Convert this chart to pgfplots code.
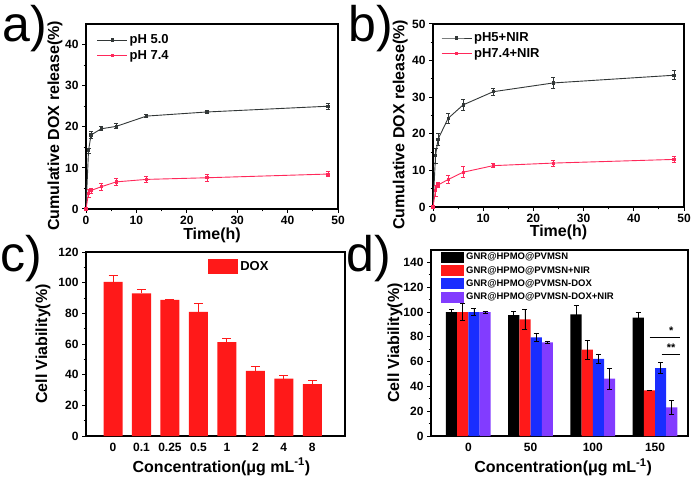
\documentclass[border=0pt]{standalone}
\usepackage{pgfplots}
\pgfplotsset{compat=1.18}
\usepackage{fontspec}
\setmainfont{Liberation Sans}
\definecolor{dg}{RGB}{50,55,55}
\definecolor{pk}{RGB}{255,40,90}
\definecolor{rb}{RGB}{255,25,25}
\definecolor{bl}{RGB}{25,45,255}
\definecolor{pu}{RGB}{130,60,255}
\pgfplotsset{
  base/.style={
    scale only axis,
    axis line style={line width=1.2pt},
    tick align=outside, tick pos=left,
    major tick length=4pt, minor tick length=2.5pt,
    every tick/.style={line width=1pt, black},
    /pgf/number format/assume math mode=true,
    tick label style={font=\fontsize{12}{12}\selectfont\bfseries},
    label style={font=\fontsize{16}{16}\selectfont\bfseries},
    legend cell align=left,
  },
  rel/.style={
    base, xmin=0, xmax=50, xtick={0,10,...,50}, minor x tick num=1,
    minor y tick num=1,
    xlabel={Time(h)}, ylabel={Cumulative DOX release(\%)},
    xlabel style={at={(axis description cs:0.5,-0.14)}, anchor=center},
    legend style={draw=none, fill=none, font=\fontsize{13}{13}\selectfont\bfseries,
      anchor=north west, row sep=1pt},
    legend image code/.code={\draw[mark repeat=2,mark phase=2,#1] plot coordinates {(0pt,0pt) (15pt,0pt) (30pt,0pt)};},
    error bars/y dir=both, error bars/y explicit,
  },
  ln/.style={line width=0.9pt, mark=square*, mark size=1.1pt,
    error bars/error bar style={line width=0.8pt},
    error bars/error mark options={rotate=90, mark size=2pt, line width=0.8pt}},
}
\begin{document}
\begin{tikzpicture}
\useasboundingbox (0pt,0pt) rectangle (695pt,482pt);
% panel letters
\node[anchor=base west, inner sep=0pt, font=\fontsize{50}{50}\selectfont] at (2pt,440pt) {a)};
\node[anchor=base west, inner sep=0pt, font=\fontsize{50}{50}\selectfont] at (348pt,440pt) {b)};
\node[anchor=base west, inner sep=0pt, font=\fontsize{50}{50}\selectfont] at (0pt,210pt) {c)};
\node[anchor=base west, inner sep=0pt, font=\fontsize{50}{50}\selectfont] at (346pt,210pt) {d)};

% ---------- a ----------
\begin{axis}[rel, at={(86pt,273pt)}, anchor=south west, width=252pt, height=185pt,
  ymin=0, ymax=45, ytick={0,10,...,40},
  ylabel style={at={(axis description cs:-0.123,0.45)}, anchor=center},
  legend style={at={(axis description cs:0.03,0.965)}}]
\addplot[ln, dg] table[x=t, y=v, y error=e] {
t v e
0 0 0
0.5 14.2 0.6
1 18 0.8
3 19.5 0.5
6 20.1 0.6
12 22.6 0.4
24 23.6 0.4
48 25 0.8
};
\addlegendentry{pH 5.0}
\addplot[ln, pk] table[x=t, y=v, y error=e] {
t v e
0 0 0
0.5 3.8 1.0
1 4.5 0.6
3 5.4 0.9
6 6.6 0.8
12 7.2 0.7
24 7.6 0.8
48 8.5 0.6
};
\addlegendentry{pH 7.4}
\end{axis}

% ---------- b ----------
\begin{axis}[rel, at={(433pt,275pt)}, anchor=south west, width=251pt, height=183pt,
  ymin=0, ymax=50, ytick={0,10,...,50},
  ylabel style={at={(axis description cs:-0.131,0.45)}, anchor=center},
  legend style={at={(axis description cs:0.02,0.975)}}]
\addplot[ln, dg] table[x=t, y=v, y error=e] {
t v e
0 0 0
0.5 14 2
1 18.5 1.6
3 24.2 1.4
6 27.9 1.4
12 31.5 0.9
24 33.9 1.5
48 36 1.2
};
\addlegendentry{pH5+NIR}
\addplot[ln, pk] table[x=t, y=v, y error=e] {
t v e
0 0 0
0.5 4.5 1.5
1 6 0.7
3 7.5 1.0
6 9.5 1.5
12 11.3 0.5
24 12 0.8
48 13 0.7
};
\addlegendentry{pH7.4+NIR}
\end{axis}

% ---------- c ----------
\begin{axis}[base, at={(86pt,46pt)}, anchor=south west, width=259pt, height=184pt,
  ymin=0, ymax=120, ytick={0,20,...,120}, minor y tick num=1,
  xmin=-0.95, xmax=8.15, xtick={0,...,7},
  xticklabels={0,0.1,0.25,0.5,1,2,4,8},
  xtick style={draw=none},
  minor xtick={-0.5,0.5,...,7.5},
  ybar, bar width=19pt,
  ylabel={Cell Viability(\%)}, xlabel={Concentration(μg mL\textsuperscript{-1})},
  ylabel style={at={(axis description cs:-0.166,0.5)}, anchor=center},
  xlabel style={at={(axis description cs:0.523,-0.168)}, anchor=center},
  legend style={draw=none, fill=none, at={(axis description cs:0.46,0.975)}, anchor=north west,
    font=\fontsize{13}{13}\selectfont\bfseries},
  legend image code/.code={\fill[#1] (0pt,-7.5pt) rectangle (30pt,7.5pt);},
  ]
\addplot[fill=rb, draw=none, error bars/.cd, y dir=plus, y explicit,
  error bar style={rb, line width=1pt},
  error mark options={rotate=90, mark size=4.5pt, line width=1pt, rb}]
  table[x=x, y=v, y error=e] {
x v e
0 100.5 4
1 93 2.7
2 88.8 0.5
3 81 5.4
4 61.2 2.2
5 42.5 2.6
6 37.4 2
7 33.8 2.6
};
\addlegendentry{DOX}
\end{axis}

% ---------- d ----------
\begin{axis}[base, at={(431pt,46pt)}, anchor=south west, width=257pt, height=186pt,
  ymin=0, ymax=150, ytick={0,20,...,140}, minor y tick num=1,
  xmin=-30, xmax=176.5, xtick={0,50,100,150},
  xtick style={draw=none},
  minor xtick={25,75,125},
  ybar=0pt, bar width=11.2pt,
  ylabel={Cell Viability(\%)}, xlabel={Concentration(μg mL\textsuperscript{-1})},
  ylabel style={at={(axis description cs:-0.14,0.5)}, anchor=center},
  xlabel style={at={(axis description cs:0.514,-0.168)}, anchor=center},
  legend style={draw=none, fill=none, at={(axis description cs:0.035,1.0)}, anchor=north west,
    font=\fontsize{9.5}{9.5}\selectfont\bfseries, row sep=1pt, inner sep=1pt},
  legend image code/.code={\fill[#1] (0pt,-5.5pt) rectangle (23pt,5.5pt);},
  error bars/y dir=both, error bars/y explicit,
  error bars/error bar style={black, line width=0.7pt},
  error bars/error mark options={rotate=90, mark size=2.5pt, line width=0.7pt, black},
  ]
\addplot[fill=black, draw=none] table[x=x, y=v, y error=e] {
x v e
0 100 2
50 97.5 3
100 98 7
150 95.5 4.5
};
\addlegendentry{GNR@HPMO@PVMSN}
\addplot[fill=rb, draw=none] table[x=x, y=v, y error=e] {
x v e
0 100 7
50 94 8
100 69.6 7.7
150 36.8 0.2
};
\addlegendentry{GNR@HPMO@PVMSN+NIR}
\addplot[fill=bl, draw=none] table[x=x, y=v, y error=e] {
x v e
0 100 3
50 79.5 3
100 62.2 4
150 54.7 4.3
};
\addlegendentry{GNR@HPMO@PVMSN-DOX}
\addplot[fill=pu, draw=none] table[x=x, y=v, y error=e] {
x v e
0 100 0.8
50 75.5 1
100 46.2 8.5
150 23 5.8
};
\addlegendentry{GNR@HPMO@PVMSN-DOX+NIR}
\draw[line width=1pt] (axis cs:145.7,79.4) -- (axis cs:170,79.4);
\draw[line width=1pt] (axis cs:155.3,66.1) -- (axis cs:170,66.1);
\node[font=\bfseries\fontsize{11}{11}\selectfont] at (axis cs:163,85) {*};
\node[font=\bfseries\fontsize{11}{11}\selectfont] at (axis cs:163,71) {**};
\end{axis}
\end{tikzpicture}
\end{document}
